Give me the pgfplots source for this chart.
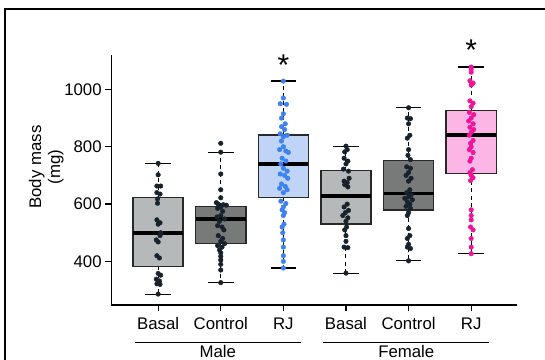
\documentclass[border=0pt]{standalone}
\usepackage{fontspec}
\setmainfont{Liberation Sans}
\usepackage{pgfplots}
\pgfplotsset{compat=1.18}
\usepgfplotslibrary{statistics}
\definecolor{basalfill}{RGB}{181,185,186}
\definecolor{ctrlfill}{RGB}{120,122,121}
\definecolor{mrjfill}{RGB}{192,212,248}
\definecolor{frjfill}{RGB}{252,182,230}
\definecolor{boxedge}{RGB}{40,40,40}
\definecolor{dotdark}{RGB}{24,34,44}
\definecolor{dotblue}{RGB}{60,130,240}
\definecolor{dotpink}{RGB}{240,20,155}
\newcommand{\lblfont}{\fontsize{16.8bp}{19bp}\selectfont}
\begin{document}
\begin{tikzpicture}
\path[use as bounding box] (-111.2bp,-55bp) rectangle (433.8bp,305bp);
\draw[line width=2.2bp] (-106bp,-80bp) -- (-106bp,296bp) -- (460bp,296bp);
\begin{axis}[
  at={(0,0)}, anchor=south west,
  width=406bp, height=250bp, scale only axis,
  xmin=0.25, xmax=6.735, ymin=248, ymax=1120,
  axis x line*=bottom, axis y line*=left,
  axis line style={line width=1.2bp,-},
  xtick={1,2,3,4,5,6},
  xticklabels={Basal,Control,RJ,Basal,Control,RJ},
  ytick={400,600,800,1000},
  tick align=outside, major tick length=6bp,
  tick style={line width=1.2bp,black},
  clip=false,
  /pgf/number format/assume math mode=true,
  /pgf/number format/1000 sep={},
  ticklabel style={font=\lblfont},
  xticklabel style={yshift=-3bp},
  ylabel={Body mass\\(mg)},
  ylabel style={at={(axis description cs:-0.160,0.552)},anchor=center,align=center,font=\lblfont},
  boxplot/draw direction=y,
  boxplot/box extend=0.8,
  boxplot/whisker extend=0,
  boxplot/every whisker/.style={black,line width=1bp,dash pattern=on 4bp off 3.5bp},
  boxplot/every median/.style={black,line width=3.6bp},
  boxplot/every box/.style={draw=boxedge,line width=1.4bp},
]
% boxes
\addplot[boxplot prepared={draw position=1,median=499,upper quartile=623,lower quartile=383,upper whisker=742,lower whisker=286},boxplot/every box/.append style={fill=basalfill}] coordinates {};
\addplot[boxplot prepared={draw position=2,median=547,upper quartile=591,lower quartile=462,upper whisker=781,lower whisker=326},boxplot/every box/.append style={fill=ctrlfill}] coordinates {};
\addplot[boxplot prepared={draw position=3,median=740,upper quartile=841,lower quartile=624,upper whisker=1029,lower whisker=377},boxplot/every box/.append style={fill=mrjfill}] coordinates {};
\addplot[boxplot prepared={draw position=4,median=629,upper quartile=717,lower quartile=530,upper whisker=802,lower whisker=359},boxplot/every box/.append style={fill=basalfill}] coordinates {};
\addplot[boxplot prepared={draw position=5,median=637,upper quartile=752,lower quartile=579,upper whisker=936,lower whisker=402},boxplot/every box/.append style={fill=ctrlfill}] coordinates {};
\addplot[boxplot prepared={draw position=6,median=841,upper quartile=927,lower quartile=707,upper whisker=1078,lower whisker=427},boxplot/every box/.append style={fill=frjfill}] coordinates {};
% whisker caps
\addplot[only marks, mark=-, mark size=12.8bp, mark options={line width=1.2bp,black}] coordinates {
(1,742) (1,286) (2,781) (2,326) (3,1029) (3,377) (4,802) (4,359) (5,936) (5,402) (6,1078) (6,427)};
% points
\addplot[only marks, mark=*, mark size=2.3bp, color=dotdark] coordinates {
(1.00,742) (1.00,702) (0.98,663) (1.04,663) (0.98,640) (1.03,635) (0.99,618) (0.99,603)
(0.98,545) (1.03,535) (1.00,530) (1.04,500) (1.03,490) (0.97,475) (1.00,468)
(0.98,420) (1.02,412) (1.00,358) (1.04,352) (0.97,338) (1.02,332) (0.98,322) (1.03,320) (1.00,286)};
\addplot[only marks, mark=*, mark size=2.3bp, color=dotdark] coordinates {
(2.00,812) (2.00,781) (2.00,705) (2.00,650) (2.00,622) (1.93,605) (1.96,600) (2.04,598) (2.09,596)
(2.00,590) (1.95,585) (2.03,575) (2.00,560) (1.94,555) (2.06,548) (1.98,540) (1.95,525) (2.02,520)
(2.05,510) (1.96,490) (2.03,480) (2.00,470) (2.06,462) (1.95,455) (2.02,450) (1.98,440) (2.00,430)
(2.00,418) (2.00,405) (2.00,390) (2.00,370) (2.00,326)};
\addplot[only marks, mark=*, mark size=2.3bp, color=dotblue] coordinates {
(3.00,1029) (3.00,970) (2.95,950) (3.05,948) (3.00,915) (2.97,900) (3.03,880) (2.97,870) (3.02,860)
(2.95,845) (3.06,840) (3.00,835) (2.97,820) (3.00,800) (2.94,790) (3.04,785) (3.08,780) (2.98,760)
(3.04,750) (2.96,740) (3.00,725) (3.06,715) (2.95,705) (3.02,700) (3.07,690) (2.97,670) (3.03,662)
(2.94,655) (3.06,650) (3.00,640) (2.96,610) (3.04,602) (3.00,590) (2.98,580) (3.02,570) (3.00,560)
(3.01,530) (2.98,520) (2.99,500) (3.00,475) (3.00,450) (3.00,420) (3.00,400) (3.00,377)};
\addplot[only marks, mark=*, mark size=2.3bp, color=dotdark] coordinates {
(4.00,802) (4.02,790) (3.98,782) (3.97,760) (4.03,750) (4.00,740) (3.96,722) (4.04,715) (4.05,690)
(3.97,680) (4.02,675) (3.98,668) (4.03,660) (4.02,600) (3.97,590) (4.04,578) (3.99,570) (3.95,560)
(4.03,552) (4.00,540) (4.01,520) (3.98,510) (4.00,490) (4.00,470) (3.97,450) (4.03,448) (4.00,359)};
\addplot[only marks, mark=*, mark size=2.3bp, color=dotdark] coordinates {
(5.00,936) (4.98,900) (5.03,898) (5.00,880) (5.02,840) (4.98,830) (5.00,790) (4.99,770) (5.03,755)
(4.97,730) (5.03,725) (5.00,710) (4.96,700) (5.04,690) (5.00,680) (5.02,650) (4.97,640) (5.04,632)
(5.00,625) (4.94,620) (5.06,615) (4.98,608) (5.02,600) (4.96,592) (5.03,585) (5.00,570) (4.98,560)
(5.00,515) (5.02,490) (4.98,480) (5.00,460) (4.98,450) (5.03,445) (5.00,402)};
\addplot[only marks, mark=*, mark size=2.3bp, color=dotpink] coordinates {
(6.00,1078) (6.00,1070) (6.00,1060) (5.98,1030) (6.03,1022) (6.00,1015) (5.98,960) (6.03,952)
(6.00,940) (5.97,920) (6.04,912) (6.00,900) (5.96,890) (6.03,880) (5.98,868) (6.04,860) (6.00,850)
(5.97,840) (6.03,822) (5.99,812) (6.00,800) (5.97,790) (6.03,780) (6.00,760) (5.98,750) (6.02,720)
(5.98,710) (6.00,700) (6.03,692) (5.99,682) (6.00,580) (6.00,560) (6.00,545) (5.99,520) (6.03,510)
(6.00,480) (6.00,450) (6.00,427)};
% significance and groups
\node[font=\fontsize{30bp}{30bp}\selectfont,anchor=base] at (axis cs:3,1050) {*};
\node[font=\fontsize{30bp}{30bp}\selectfont,anchor=base] at (axis cs:6,1102) {*};
\draw[line width=1.4bp] (axis cs:0.628,116.5) -- (axis cs:3.276,116.5);
\draw[line width=1.4bp] (axis cs:3.637,116.5) -- (axis cs:6.29,116.5);
\node[font=\lblfont,anchor=base] at (axis cs:1.952,63.5) {Male};
\node[font=\lblfont,anchor=base] at (axis cs:4.963,63.5) {Female};
\end{axis}
\end{tikzpicture}
\end{document}
